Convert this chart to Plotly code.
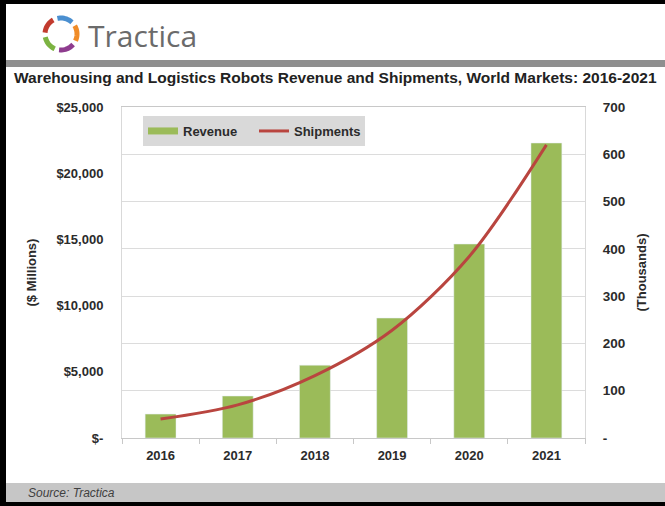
import math
import plotly.graph_objects as go

# ---- data ----
years = ["2016", "2017", "2018", "2019", "2020", "2021"]
revenue = [1810, 3170, 5500, 9060, 14650, 22280]      # $ Millions
shipments = [40, 70, 132, 228, 384, 620]              # Thousands
left_tickvals = [0, 5000, 10000, 15000, 20000, 25000]
left_ticktext = ["$-", "$5,000", "$10,000", "$15,000", "$20,000", "$25,000"]
right_tickvals = [0, 100, 200, 300, 400, 500, 600, 700]
right_ticktext = ["-", "100", "200", "300", "400", "500", "600", "700"]

W, H = 665, 506
L, R, T, B = 122, 80, 107, 68
PW, PH = W - L - R, H - T - B

def px(x):
    return (x - L) / PW

def py(y):
    return (T + PH - y) / PH

GREEN = "#9bbb59"
RED = "#b9453f"
TXT = "#2b2b2b"
FONT = "Liberation Sans, Arial, sans-serif"

fig = go.Figure()
fig.add_trace(go.Bar(x=years, y=revenue, name="Revenue", marker_color=GREEN,
                     showlegend=False, legendgroup="rev", yaxis="y"))
fig.add_trace(go.Scatter(x=[None], y=[None], mode="lines", name="Revenue",
                         legendgroup="rev", line=dict(color=GREEN, width=7)))
fig.add_trace(go.Scatter(x=years, y=shipments, name="Shipments", mode="lines",
                         line=dict(color=RED, width=3, shape="spline", smoothing=0.9),
                         yaxis="y2"))

shapes = []
# black frame pieces
shapes.append(dict(type="rect", xref="paper", yref="paper", x0=px(0), x1=px(W), y0=py(0), y1=py(4),
                   fillcolor="black", line_width=0, layer="above"))
shapes.append(dict(type="rect", xref="paper", yref="paper", x0=px(0), x1=px(6), y0=py(0), y1=py(H),
                   fillcolor="black", line_width=0, layer="above"))
shapes.append(dict(type="rect", xref="paper", yref="paper", x0=px(0), x1=px(W), y0=py(502), y1=py(H),
                   fillcolor="black", line_width=0, layer="above"))
# gray bar under logo
shapes.append(dict(type="rect", xref="paper", yref="paper", x0=px(6), x1=px(W), y0=py(60), y1=py(67),
                   fillcolor="#8f8f8f", line_width=0))
# source bar
shapes.append(dict(type="rect", xref="paper", yref="paper", x0=px(6), x1=px(W), y0=py(483), y1=py(502),
                   fillcolor="#c6c6c6", line_width=0))

# logo ring segments
cx, cy, rr = 61, 34, 16
segs = [(47, 103, "#4a8fd0"), (119, 175, "#c23b2e"), (191, 247, "#7cb342"),
        (263, 319, "#8e3c8e"), (335, 391, "#f08c28")]
for a0, a1, col in segs:
    pts = []
    n = 12
    for i in range(n + 1):
        a = math.radians(a0 + (a1 - a0) * i / n)
        pts.append((px(cx + rr * math.cos(a)), py(cy - rr * math.sin(a))))
    path = "M" + " L".join(f"{x:.5f},{y:.5f}" for x, y in pts)
    shapes.append(dict(type="path", xref="paper", yref="paper", path=path,
                       line=dict(color=col, width=5)))

annotations = [
    dict(text="Tractica", xref="paper", yref="paper", x=px(86), y=py(36), xanchor="left",
         yanchor="middle", showarrow=False, font=dict(family="Open Sans, sans-serif", size=30, color="#6b6b6b")),
    dict(text="<b>Warehousing and Logistics Robots Revenue and Shipments, World Markets: 2016-2021</b>",
         xref="paper", yref="paper", x=px(12), y=py(78), xanchor="left", yanchor="middle",
         showarrow=False, font=dict(family=FONT, size=15.5, color="#222222")),
    dict(text="<i>Source: Tractica</i>", xref="paper", yref="paper", x=px(26), y=py(493),
         xanchor="left", yanchor="middle", showarrow=False,
         font=dict(family=FONT, size=12, color="#404040")),
]

fig.update_layout(
    width=W, height=H,
    margin=dict(l=L, r=R, t=T, b=B, autoexpand=False),
    paper_bgcolor="white", plot_bgcolor="white",
    font=dict(family=FONT, size=13, color=TXT),
    bargap=0.6,
    showlegend=True,
    legend=dict(orientation="h", x=px(143), y=py(116), xanchor="left", yanchor="top",
                bgcolor="#d9d9d9", font=dict(family=FONT, size=13, color=TXT, weight="bold"),
                itemwidth=30, traceorder="normal", entrywidth=66, entrywidthmode="pixels"),
    xaxis=dict(type="category", showline=True, linecolor="#c8c8c8", mirror=True,
               ticks="outside", tickson="boundaries", ticklen=5, tickcolor="#c8c8c8",
               ticklabelstandoff=5,
               tickfont=dict(family=FONT, size=13, color=TXT, weight="bold"), showgrid=False),
    yaxis=dict(range=[0, 25000], tickvals=left_tickvals, ticktext=left_ticktext,
               showgrid=False, showline=True, linecolor="#d9d9d9", zeroline=False,
               ticklabelstandoff=15,
               tickfont=dict(family=FONT, size=13, color=TXT, weight="bold"),
               title=dict(text="($ Millions)", standoff=16,
                          font=dict(family=FONT, size=13, color=TXT, weight="bold"))),
    yaxis2=dict(range=[0, 700], overlaying="y", side="right", tickvals=right_tickvals,
                ticktext=right_ticktext, showgrid=True, gridcolor="#dcdcdc", gridwidth=1,
                showline=True, linecolor="#d9d9d9", zeroline=False, ticklabelstandoff=14,
                tickfont=dict(family=FONT, size=13.5, color=TXT, weight="bold"),
                title=dict(text="(Thousands)", standoff=12,
                           font=dict(family=FONT, size=13, color=TXT, weight="bold"))),
    shapes=shapes,
    annotations=annotations,
)

fig.write_html("out.html")
